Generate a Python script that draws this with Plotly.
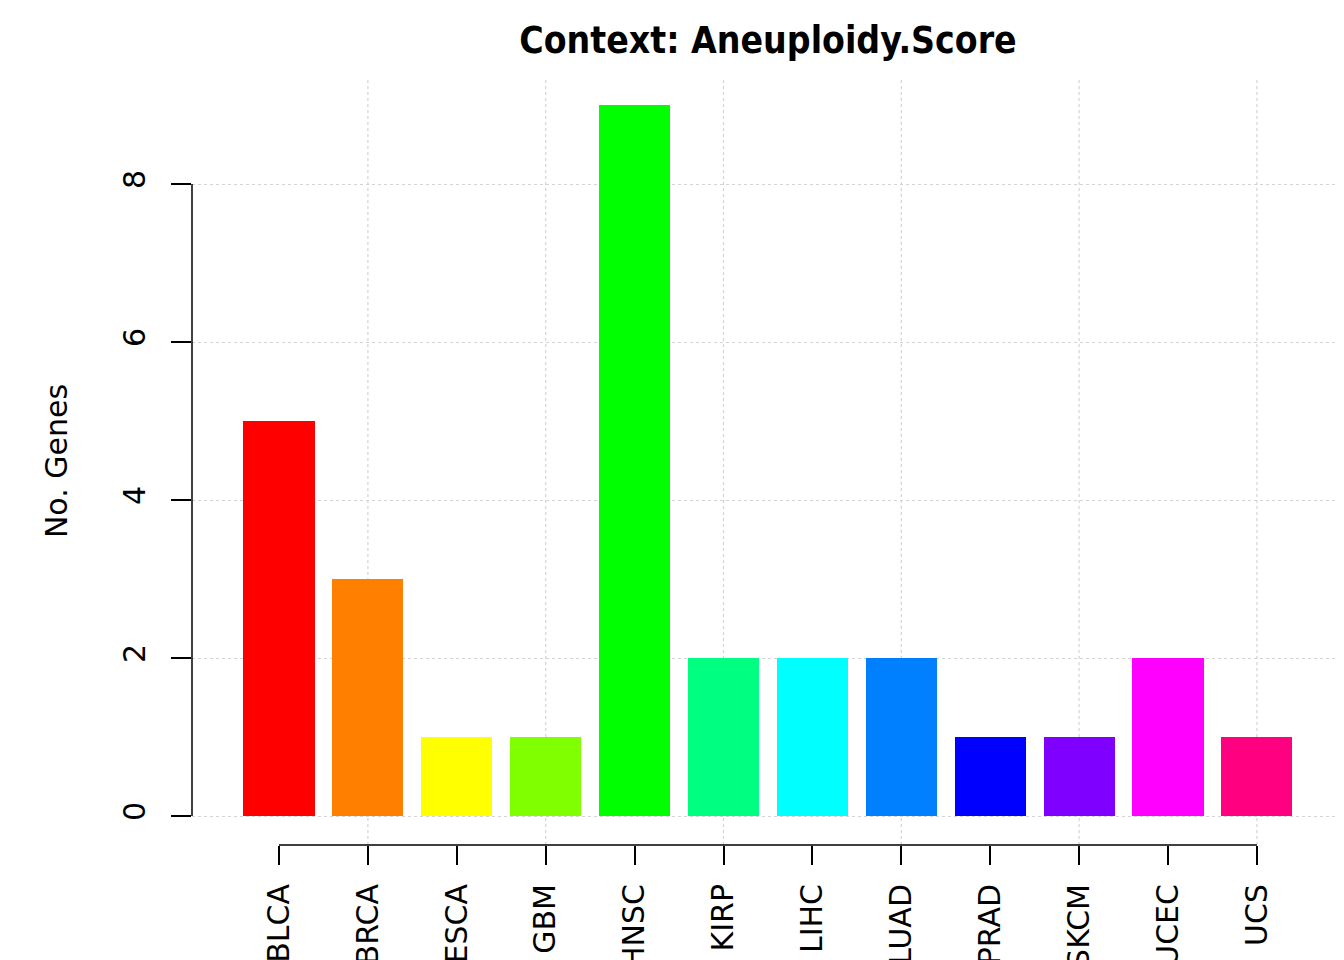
import plotly.graph_objects as go

categories = ["BLCA", "BRCA", "ESCA", "GBM", "HNSC", "KIRP", "LIHC", "LUAD", "PRAD", "SKCM", "UCEC", "UCS"]
values = [5, 3, 1, 1, 9, 2, 2, 2, 1, 1, 2, 1]
colors = ["#FF0000", "#FF8000", "#FFFF00", "#80FF00", "#00FF00", "#00FF80",
          "#00FFFF", "#0080FF", "#0000FF", "#8000FF", "#FF00FF", "#FF0080"]
y_ticks = [0, 2, 4, 6, 8]
x_grid_idx = [1, 3, 5, 7, 9, 11]

x_pos = list(range(len(categories)))

fig = go.Figure()
fig.add_trace(go.Bar(x=x_pos, y=values, marker=dict(color=colors, line=dict(width=0)),
                     width=0.8, showlegend=False))

OFF = 8  # page body margin
W, H = 1344 - OFF, 960 - OFF
left, right, top, bottom = 192 - OFF, 1344 - OFF, 77 - OFF, 845 - OFF
x0_px, dx_px = 279 - OFF, 88.9
y0_px, dy_px = 816 - OFF, 79.0
xr = [(left - x0_px) / dx_px, (right - x0_px) / dx_px]
yr = [(y0_px - bottom) / dy_px, (y0_px - top) / dy_px]

shapes = []
for i in x_grid_idx:
    shapes.append(dict(type="line", xref="x", yref="paper", x0=i, x1=i, y0=0, y1=1,
                       line=dict(color="#D3D3D3", width=1.2, dash="dot"), layer="below"))
shapes.append(dict(type="line", xref="paper", yref="y", x0=0, x1=0, y0=min(y_ticks), y1=max(y_ticks),
                   line=dict(color="black", width=1.5)))
shapes.append(dict(type="line", xref="x", yref="paper", x0=x_pos[0], x1=x_pos[-1], y0=0, y1=0,
                   line=dict(color="black", width=1.5)))

fig.update_layout(
    width=W, height=H,
    margin=dict(l=left, r=W - right, t=top, b=H - bottom, pad=0, autoexpand=False),
    plot_bgcolor="white", paper_bgcolor="white",
    font=dict(family="DejaVu Sans", size=30, color="black"),
    title=dict(text="<b>Context: Aneuploidy.Score</b>", x=0.5, xref="paper", xanchor="center",
               y=1 - (40 - OFF) / H, yanchor="middle", yref="container",
               font=dict(family="DejaVu Sans Condensed, DejaVu Sans", size=37, color="black")),
    xaxis=dict(range=xr, tickmode="array", tickvals=x_pos, ticktext=categories,
               tickangle=-90, ticks="outside", ticklen=19, tickwidth=1.5, tickcolor="black",
               showgrid=False, zeroline=False, showline=False, ticklabelstandoff=7,
               automargin=False),
    yaxis=dict(range=yr, tickmode="array", tickvals=y_ticks, ticktext=[str(v) for v in y_ticks],
               tickangle=-90, ticks="outside", ticklen=20, tickwidth=1.5, tickcolor="black",
               showgrid=True, gridcolor="#D3D3D3", griddash="dot", gridwidth=1.2,
               zeroline=False, showline=False, ticklabelstandoff=14, automargin=False,
               title=dict(text="No. Genes", standoff=40, font=dict(size=30))),
    shapes=shapes,
    bargap=0,
)

fig.write_html("out.html")
